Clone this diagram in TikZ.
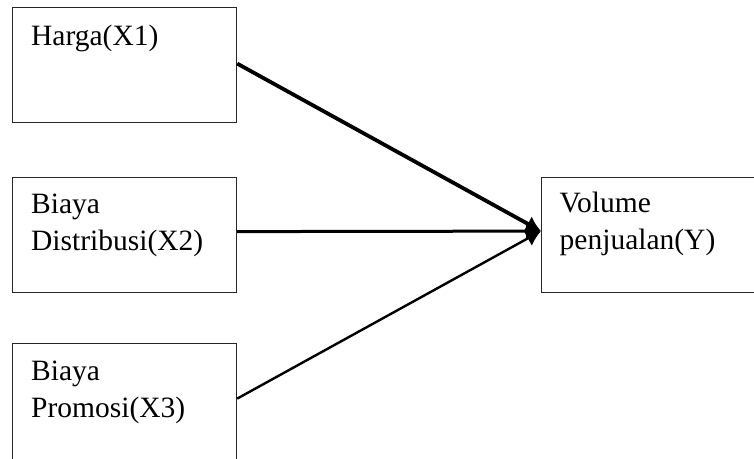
\documentclass[tikz,border=0pt]{standalone}
\usepackage{fontspec}
\setmainfont{Liberation Serif}
\usetikzlibrary{arrows.meta}

\tikzset{
  box/.style={draw=black!85, line width=1.2pt, rectangle, inner sep=0pt,
              anchor=north west},
  lbl/.style={anchor=base west, inner sep=0pt, align=left,
              font=\fontsize{29.5}{37}\selectfont},
  arr/.style={-{Latex[length=15pt,width=17pt]}, draw=black},
}

\begin{document}
\begin{tikzpicture}[x=1pt, y=-1pt]
  \useasboundingbox (0,0) rectangle (754,458);
  \clip (0,0) rectangle (754,458);

  % independent variables
  \node[box, minimum width=224pt, minimum height=115pt] (x1) at (12,7) {};
  \node[box, minimum width=224pt, minimum height=115pt] (x2) at (12,177) {};
  \node[box, minimum width=224pt, minimum height=123pt] (x3) at (12,343) {};
  % dependent variable
  \node[box, minimum width=240pt, minimum height=115pt] (y) at (541,177) {};

  % labels (base anchor sits on the last line of each block)
  \node[lbl] (t1) at (31,45) {Harga(X1)};
  \node[lbl] (t2) at (31,250) {Biaya\\Distribusi(X2)};
  \node[lbl] (t3) at (31,417) {Biaya\\Promosi(X3)};
  \node[lbl] (ty) at (559.5,249) {Volume\\penjualan(Y)};

  % influence arrows
  \draw[arr, line width=3.8pt]  ([yshift=1.5pt]x1.east) -- ([yshift=4pt]y.west);
  \draw[arr, line width=3pt]    ([yshift=3.5pt]x2.east) -- ([yshift=4pt]y.west);
  \draw[arr, line width=2.4pt]  ([yshift=6.5pt]x3.east) -- ([yshift=4pt]y.west);
\end{tikzpicture}
\end{document}
